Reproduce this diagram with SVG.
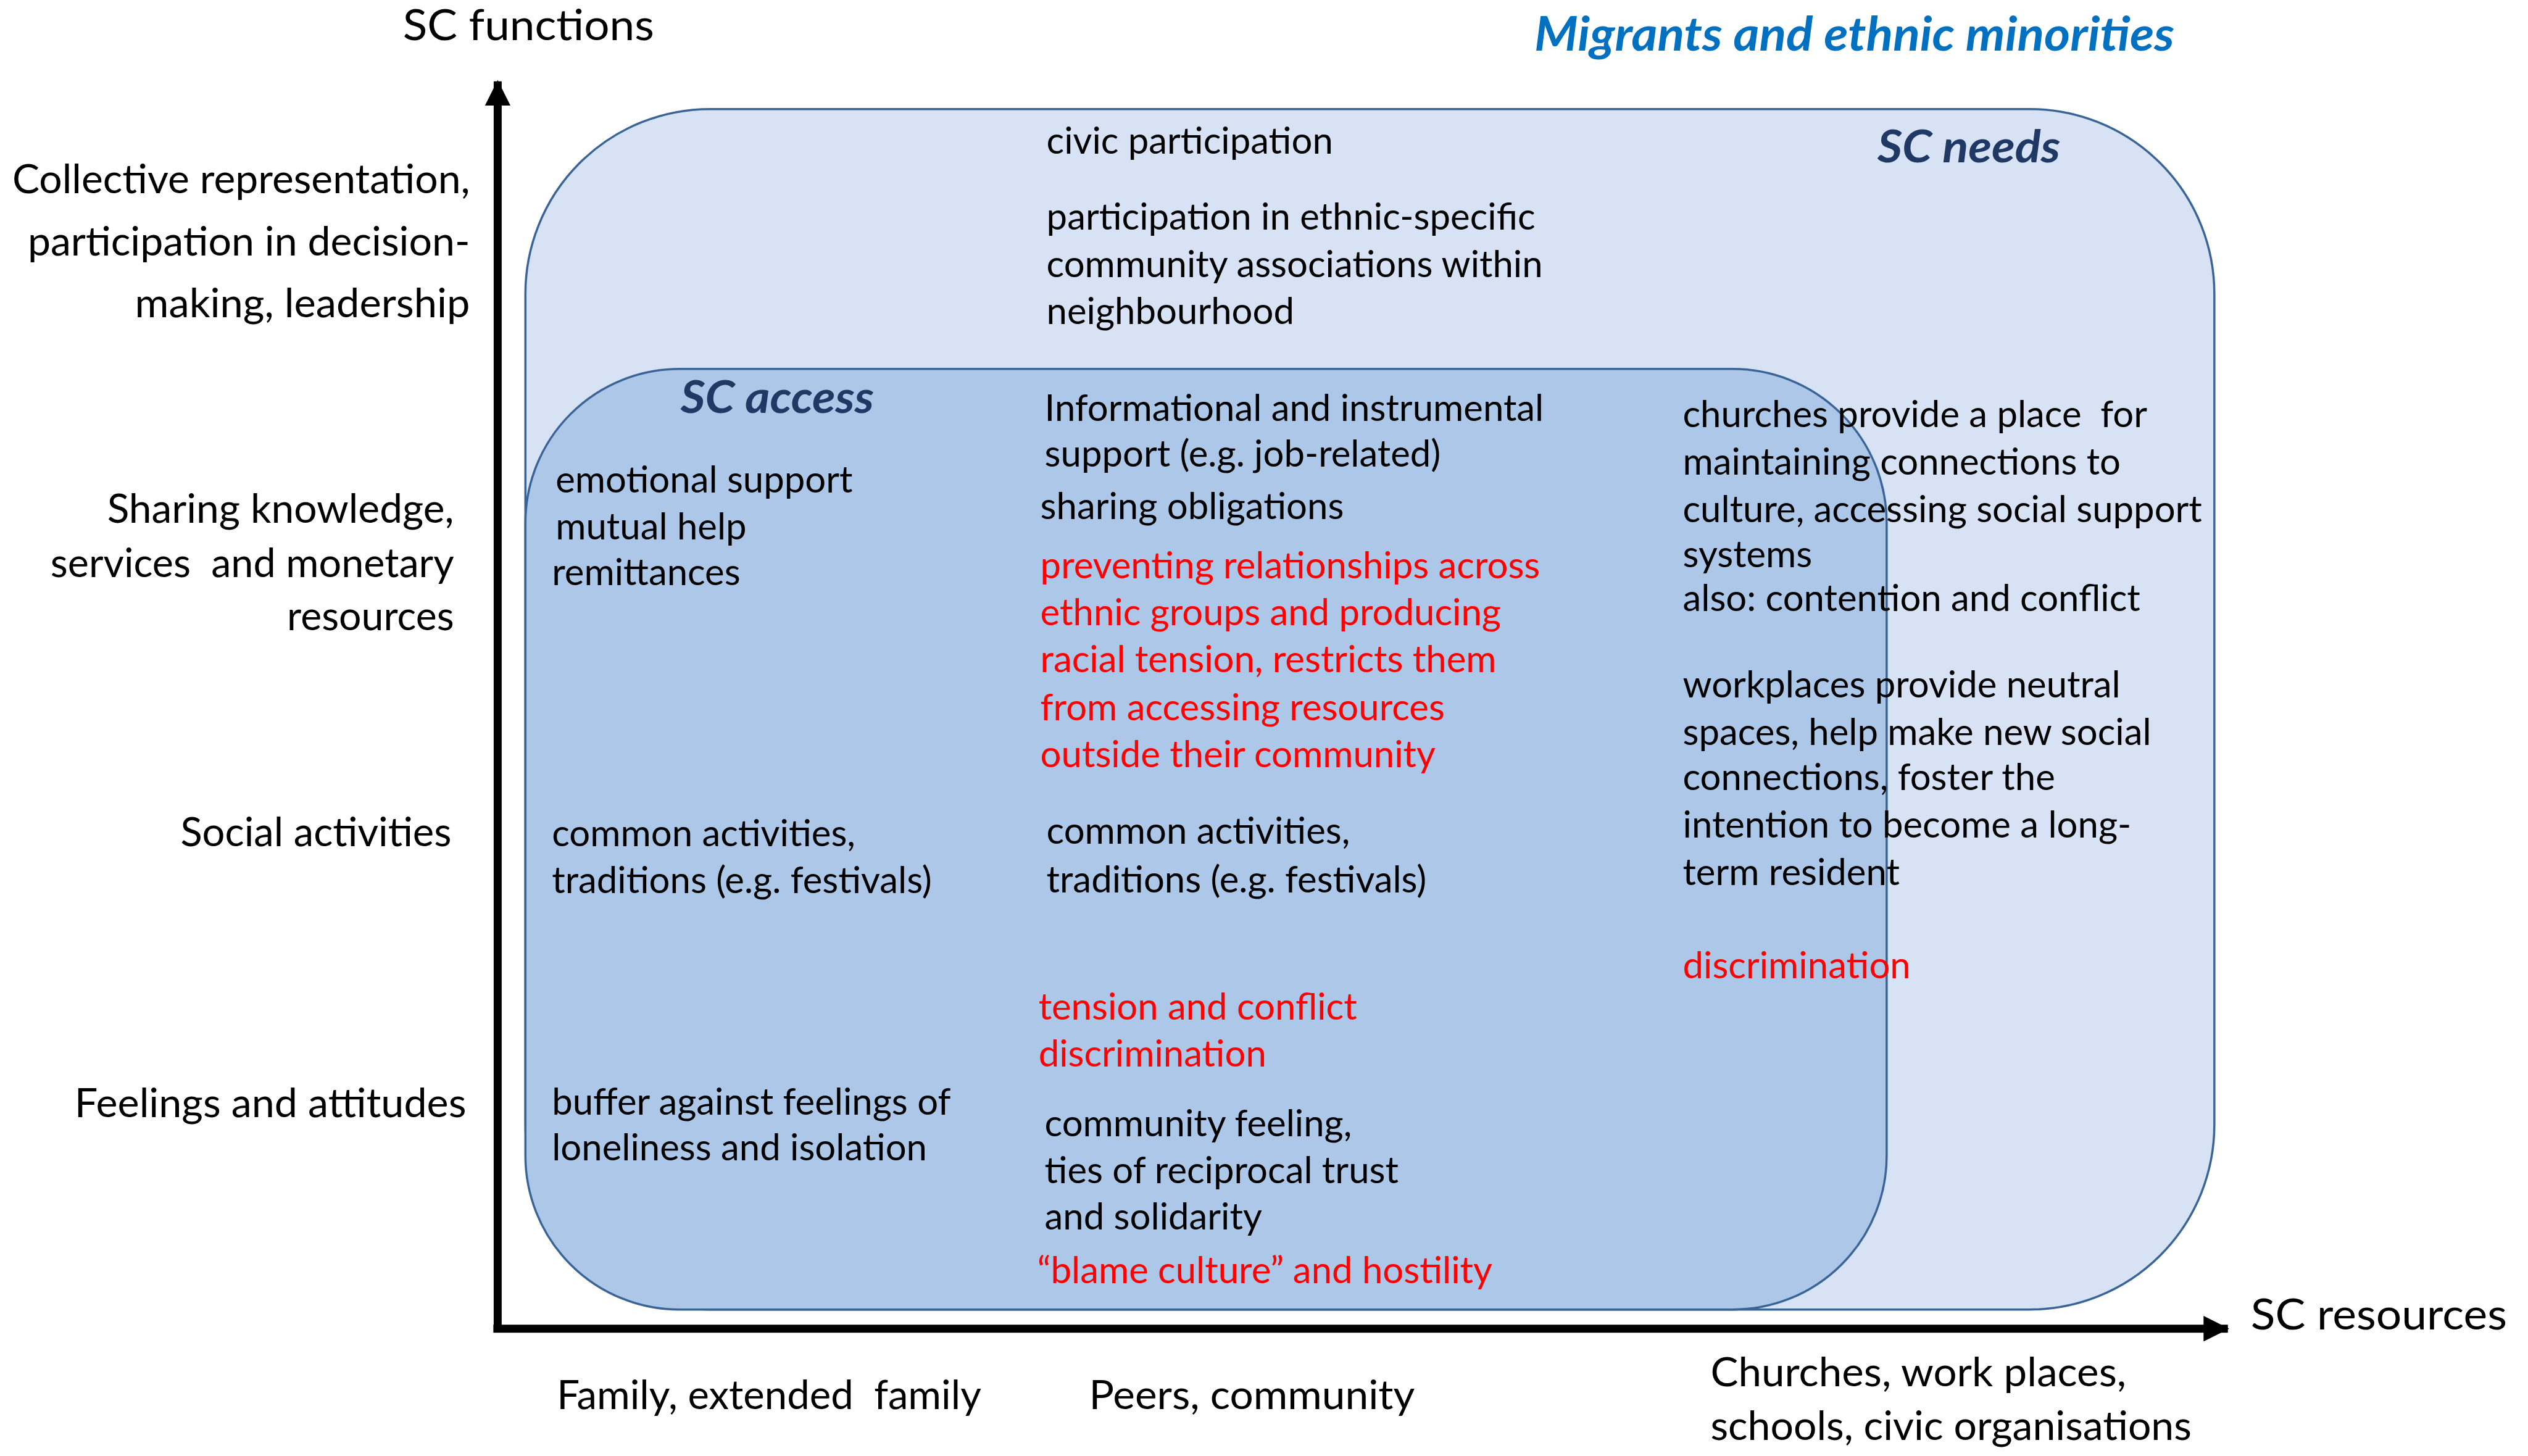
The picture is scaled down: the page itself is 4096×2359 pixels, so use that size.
<svg xmlns="http://www.w3.org/2000/svg" width="4096" height="2359" viewBox="0 0 4096 2359">
<defs>
<style>
text{font-family:Lato,"Liberation Sans",sans-serif;fill:#000}
.b{font-size:60px}
.r{fill:#FF0000}
.ax{font-size:66px}
.ti{font-size:72px;font-weight:bold;font-style:italic;fill:#1F3864}
.mig{fill:#0070C0}
.shape{stroke:#3A6396;stroke-width:3.5}
</style>
<marker id="ah" viewBox="0 0 10 10" refX="9.5" refY="5" markerWidth="3.2" markerHeight="3.2" orient="auto" markerUnits="strokeWidth">
<path d="M0,0 L10,5 L0,10 z" fill="#000"/>
</marker>
</defs>
<rect width="4096" height="2359" fill="#fff"/>
<g transform="scale(0.998)">
<g id="sc-needs">
<rect class="shape" x="853" y="177" width="2742" height="1949" rx="300" ry="300" fill="#D7E3F4"/>
<text class="ti" x="3048" y="264" textLength="297" lengthAdjust="spacingAndGlyphs">SC needs</text>
<text class="b" x="1699" y="249">civic participation</text>
<text class="b" x="1699" y="373">participation in ethnic-specific</text>
<text class="b" x="1699" y="450">community associations within</text>
<text class="b" x="1699" y="526">neighbourhood</text>
</g>
<g id="sc-access">
<rect class="shape" x="853" y="599" width="2210" height="1527" rx="250" ry="250" fill="#ADC7E8"/>
<text class="ti" x="1105" y="670" textLength="314" lengthAdjust="spacingAndGlyphs">SC access</text>
</g>
<g id="connectors">
<line x1="801" y1="2157" x2="3617" y2="2157" stroke="#000" stroke-width="13" marker-end="url(#ah)"/>
<line x1="808" y1="2163" x2="808" y2="132" stroke="#000" stroke-width="13" marker-end="url(#ah)"/>
</g>
<g id="axis-y-label">
<text class="ax" x="654" y="65" textLength="408" lengthAdjust="spacingAndGlyphs" style="font-size:70px">SC functions</text>
</g>
<g id="axis-x-label">
<text class="ax" x="3654" y="2158" textLength="416" lengthAdjust="spacingAndGlyphs" style="font-size:70px">SC resources</text>
</g>
<g id="title">
<text class="ti mig" x="2491" y="82" textLength="1039" lengthAdjust="spacingAndGlyphs" style="font-size:76px">Migrants and ethnic minorities</text>
</g>
<g id="function-labels">
<text class="ax" x="20" y="314" textLength="743" lengthAdjust="spacingAndGlyphs">Collective representation,</text>
<text class="ax" x="45" y="415" textLength="718" lengthAdjust="spacingAndGlyphs">participation in decision-</text>
<text class="ax" x="219" y="515" textLength="544" lengthAdjust="spacingAndGlyphs">making, leadership</text>
<text class="ax" x="174" y="849" textLength="563" lengthAdjust="spacingAndGlyphs">Sharing knowledge,</text>
<text class="ax" x="82" y="937" textLength="655" lengthAdjust="spacingAndGlyphs" xml:space="preserve">services  and monetary</text>
<text class="ax" x="466" y="1023" textLength="271" lengthAdjust="spacingAndGlyphs">resources</text>
<text class="ax" x="293" y="1374" textLength="440" lengthAdjust="spacingAndGlyphs">Social activities</text>
<text class="ax" x="121" y="1814" textLength="636" lengthAdjust="spacingAndGlyphs">Feelings and attitudes</text>
</g>
<g id="resource-labels">
<text class="ax" x="904" y="2288" textLength="689" lengthAdjust="spacingAndGlyphs" xml:space="preserve">Family, extended  family</text>
<text class="ax" x="1768" y="2288" textLength="529" lengthAdjust="spacingAndGlyphs">Peers, community</text>
<text class="ax" x="2777" y="2250" textLength="675" lengthAdjust="spacingAndGlyphs">Churches, work places,</text>
<text class="ax" x="2777" y="2338" textLength="781" lengthAdjust="spacingAndGlyphs">schools, civic organisations</text>
</g>
<g id="family-column">
<text class="b" x="902" y="800">emotional support</text>
<text class="b" x="902" y="876">mutual help</text>
<text class="b" x="896" y="950">remittances</text>
<text class="b" x="896" y="1374">common activities,</text>
<text class="b" x="896" y="1450">traditions (e.g. festivals)</text>
<text class="b" x="896" y="1810">buffer against feelings of</text>
<text class="b" x="896" y="1884">loneliness and isolation</text>
</g>
<g id="peers-column">
<text class="b" x="1696" y="683">Informational and instrumental</text>
<text class="b" x="1696" y="758">support (e.g. job-related)</text>
<text class="b" x="1689" y="843">sharing obligations</text>
<text class="b r" x="1689" y="939">preventing relationships across</text>
<text class="b r" x="1689" y="1015">ethnic groups and producing</text>
<text class="b r" x="1689" y="1091">racial tension, restricts them</text>
<text class="b r" x="1689" y="1169">from accessing resources</text>
<text class="b r" x="1689" y="1245">outside their community</text>
<text class="b" x="1699" y="1370">common activities,</text>
<text class="b" x="1699" y="1449">traditions (e.g. festivals)</text>
<text class="b r" x="1686" y="1655">tension and conflict</text>
<text class="b r" x="1686" y="1731">discrimination</text>
<text class="b" x="1696" y="1845">community feeling,</text>
<text class="b" x="1696" y="1921">ties of reciprocal trust</text>
<text class="b" x="1696" y="1996">and solidarity</text>
<text class="b r" x="1684" y="2083">“blame culture” and hostility</text>
</g>
<g id="institutions-column">
<text class="b" x="2732" y="693" xml:space="preserve">churches provide a place  for</text>
<text class="b" x="2732" y="771">maintaining connections to</text>
<text class="b" x="2732" y="848">culture, accessing social support</text>
<text class="b" x="2732" y="921">systems</text>
<text class="b" x="2732" y="992">also: contention and conflict</text>
<text class="b" x="2732" y="1132">workplaces provide neutral</text>
<text class="b" x="2732" y="1209">spaces, help make new social</text>
<text class="b" x="2732" y="1283">connections, foster the</text>
<text class="b" x="2732" y="1360">intention to become a long-</text>
<text class="b" x="2732" y="1437">term resident</text>
<text class="b r" x="2732" y="1588">discrimination</text>
</g>
</g>
</svg>
